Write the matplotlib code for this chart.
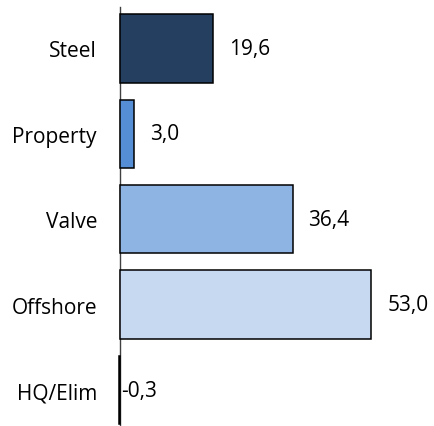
import matplotlib
matplotlib.use("Agg")
import matplotlib.pyplot as plt

segments = ["Steel", "Property", "Valve", "Offshore", "HQ/Elim"]
values = [19.6, 3.0, 36.4, 53.0, -0.3]
labels = ["19,6", "3,0", "36,4", "53,0", "-0,3"]
colors = ["#243F60", "#558ED5", "#8EB4E3", "#C6D9F1", "#1F1F1F"]

plt.rcParams["font.family"] = ["Open Sans", "DejaVu Sans"]
fs = 15

fig = plt.figure(figsize=(4.34, 4.27), dpi=100)
ax = fig.add_axes([100 / 434, 0, 334 / 434, 1])

pos = list(range(len(segments)))
ax.barh(pos, values, height=0.8, color=colors, edgecolor="black", linewidth=1.1, zorder=3)

for p, v, lab in zip(pos, values, labels):
    if v >= 0:
        ax.annotate(lab, (v, p), xytext=(16 * 0.72, 0), textcoords="offset points",
                    ha="left", va="center", fontsize=fs)
    else:
        ax.annotate(lab, (0, p), xytext=(1 * 0.72, 0), textcoords="offset points",
                    ha="left", va="center", fontsize=fs)

ax.set_xlim(-20 / 4.74, 314 / 4.74)
ax.set_ylim(4 + 36 / 85.5, -49.5 / 85.5)
for s in ["top", "right", "bottom"]:
    ax.spines[s].set_visible(False)
ax.spines["left"].set_position(("data", 0))
ax.spines["left"].set_bounds(4 + 36 / 85.5, -41.5 / 85.5)
ax.spines["left"].set_color("#404040")
ax.spines["left"].set_linewidth(1.0)
ax.set_yticks(pos)
ax.set_yticklabels(segments)
ax.set_xticks([])
ax.tick_params(axis="y", length=0, pad=23 * 0.72, labelsize=fs)

fig.savefig("out.png", dpi=100)
